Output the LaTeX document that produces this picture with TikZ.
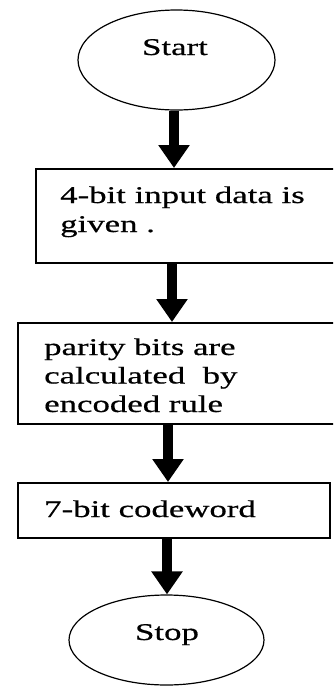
\documentclass[tikz,border=0pt]{standalone}
\usepackage{fontspec}
\newfontfamily\wideserif[FakeStretch=1.45,FakeBold=0.6]{Liberation Serif}
\usetikzlibrary{shapes.geometric,arrows.meta}
\tikzset{
  term/.style={draw, ellipse, line width=1.2pt, inner sep=0pt},
  stepbox/.style={draw, rectangle, line width=1.5pt, anchor=north west, inner sep=0pt},
  txt/.style={font=\wideserif\fontsize{24}{28.6}\selectfont, inner sep=0pt},
  arr/.style={line width=10pt, -{Triangle[width=30pt,length=23pt]}}
}
\begin{document}
\begin{tikzpicture}[x=1pt,y=-1pt]
\useasboundingbox (0,0) rectangle (333,686);
\clip (0,0) rectangle (333,686);
% terminals
\node[term, minimum width=197pt, minimum height=100pt] (start) at (176.5,60) {};
\node[txt, anchor=base] (starttxt) at (175,55) {Start};
\node[term, minimum width=195pt, minimum height=90pt] (stop) at (166.5,640) {};
\node[txt, anchor=base] (stoptxt) at (167,640) {Stop};
% boxes
\node[stepbox, minimum width=315pt, minimum height=94pt] (in) at (35,168) {};
\node[txt, anchor=base west] (intxt1) at (60,203) {4-bit input data is};
\node[txt, anchor=base west] (intxt2) at (60,232) {given .};
\node[stepbox, minimum width=333pt, minimum height=101pt] (par) at (17,322) {};
\node[txt, anchor=base west] (partxt1) at (44,355) {parity bits are};
\node[txt, anchor=base west] (partxt2) at (44,383.5) {calculated\ \ by};
\node[txt, anchor=base west] (partxt3) at (44,412) {encoded rule};
\node[stepbox, minimum width=312pt, minimum height=55pt] (code) at (17,482) {};
\node[txt, anchor=base west] (codetxt) at (44,517) {7-bit codeword};
% arrows
\draw[arr] ([xshift=-2.5pt]start.south) -- ([xshift=-2.5pt]start.south |- in.north);
\draw[arr] ([xshift=-4.5pt]start.south |- in.south) -- ([xshift=-4.5pt]start.south |- par.north);
\draw[arr] ([xshift=1.5pt]stop.north |- par.south) -- ([xshift=1.5pt]stop.north |- code.north);
\draw[arr] ([xshift=0.5pt]stop.north |- code.south) -- ([xshift=0.5pt]stop.north);
\end{tikzpicture}
\end{document}
